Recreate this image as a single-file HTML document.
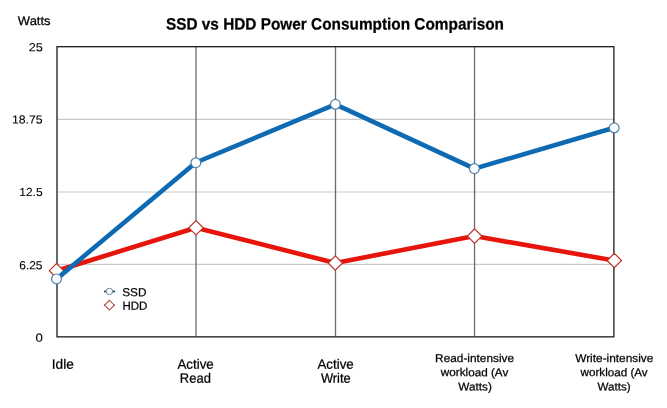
<!DOCTYPE html>
<html><head><meta charset="utf-8">
<style>
html,body{margin:0;padding:0;background:#fff;}
body{width:667px;height:408px;overflow:hidden;}
svg{display:block;will-change:transform;}
text{font-family:"Liberation Sans",sans-serif;fill:#000;stroke:#000;stroke-width:0.25px;}
#title{stroke-width:0.25px;}
#y25,#y18,#y12,#y6,#y0{stroke-width:0.1px;}
</style></head>
<body>
<svg width="667" height="408" viewBox="0 0 667 408">
<!-- gridlines -->
<g stroke="#c9c9c9" stroke-width="1.2">
<line x1="57" y1="119.4" x2="614" y2="119.4"/>
<line x1="57" y1="192" x2="614" y2="192"/>
<line x1="57" y1="264.4" x2="614" y2="264.4"/>
</g>
<g stroke="#6c6c6c" stroke-width="1.3">
<line x1="196" y1="47" x2="196" y2="336"/>
<line x1="335.5" y1="47" x2="335.5" y2="336"/>
<line x1="474.55" y1="47" x2="474.55" y2="336"/>
</g>
<!-- frame -->
<rect x="57" y="46.7" width="556.9" height="290.15" fill="none" stroke="#1a1a1a" stroke-width="1.3"/>
<!-- HDD -->
<polyline points="56.7,270.7 195.9,227.8 335.4,263 474.5,236.1 614.1,260.5" fill="none" stroke="#e6140a" stroke-width="4.6" stroke-linejoin="round"/>
<!-- markers HDD -->
<g fill="#fff" stroke="#b8342a" stroke-width="1.2">
<path d="M0 -7.2 L7.2 0 L0 7.2 L-7.2 0Z" transform="translate(56.5 270.7)"/>
<path d="M0 -7.2 L7.2 0 L0 7.2 L-7.2 0Z" transform="translate(196 227.8)"/>
<path d="M0 -7.2 L7.2 0 L0 7.2 L-7.2 0Z" transform="translate(335.3 263)"/>
<path d="M0 -7.2 L7.2 0 L0 7.2 L-7.2 0Z" transform="translate(474.6 236.1)"/>
<path d="M0 -7.2 L7.2 0 L0 7.2 L-7.2 0Z" transform="translate(614.3 260.5)"/>
</g>
<!-- SSD -->
<polyline points="56.7,278.9 195.9,162.5 335.4,104.3 474.5,168.6 614.1,127.8" fill="none" stroke="#0d6ab3" stroke-width="4.6" stroke-linejoin="round"/>
<!-- markers SSD -->
<g fill="#fbfdff" stroke="#4f7fa6" stroke-width="1.2">
<circle cx="56.5" cy="278.9" r="4.9"/>
<circle cx="195.85" cy="162.7" r="4.9"/>
<circle cx="335.4" cy="104.3" r="4.9"/>
<circle cx="474.4" cy="168.6" r="4.9"/>
<circle cx="614.2" cy="127.8" r="4.9"/>
</g>
<!-- legend -->
<line x1="103.9" y1="291.45" x2="115.1" y2="291.45" stroke="#17486b" stroke-width="1.7"/>
<circle cx="109.4" cy="291.45" r="3.2" fill="#fff" stroke="#58809e" stroke-width="0.95"/>
<line x1="104" y1="305.2" x2="114.8" y2="305.2" stroke="#8c2f2f" stroke-width="1.4"/>
<path d="M109.4 300.3 L114.3 305.2 L109.4 310.1 L104.5 305.2Z" fill="#fff" stroke="#b5453f" stroke-width="1.05"/>

<text id="title" transform="matrix(0.9403 0.0006 0 1 165.95 29.4)" font-size="16.35" font-weight="bold">SSD vs HDD Power Consumption Comparison</text>
<text id="watts" transform="matrix(1.0482 0.001 0 1 17.87 24.9)" font-size="12.4">Watts</text>
<text id="y25" transform="matrix(1.0854 0.001 0 1 28.78 51.2)" font-size="11.7">25</text>
<text id="y18" transform="matrix(1.0505 0.001 0 1 11.88 123.55)" font-size="11.7">18.75</text>
<text id="y12" transform="matrix(1.0252 0.001 0 1 19.30 196.0)" font-size="11.7">12.5</text>
<text id="y6" transform="matrix(1.0207 0.001 0 1 19.26 269.35)" font-size="11.7">6.25</text>
<text id="y0" transform="matrix(1.1288 0.001 0 1 35.54 341.75)" font-size="11.7">0</text>
<text id="lssd" transform="matrix(1.0095 0.001 0 1 122.17 296.25)" font-size="11.7">SSD</text>
<text id="lhdd" transform="matrix(0.9854 0.001 0 1 122.38 309.85)" font-size="11.7">HDD</text>
<text id="x1" transform="matrix(1.0044 0.001 0 1 51.79 368.8)" font-size="13.6">Idle</text>
<text id="x2a" transform="matrix(0.9795 0.001 0 1 177.45 368.8)" font-size="13.6">Active</text>
<text id="x2b" transform="matrix(0.9543 0.001 0 1 179.84 382.8)" font-size="13.6">Read</text>
<text id="x3a" transform="matrix(0.9795 0.001 0 1 317.45 368.8)" font-size="13.6">Active</text>
<text id="x3b" transform="matrix(0.9476 0.001 0 1 320.89 382.8)" font-size="13.6">Write</text>
<text id="x4a" transform="matrix(1.0384 0.001 0 1 435.11 362.0)" font-size="11.4">Read-intensive</text>
<text id="x4b" transform="matrix(1.0286 0.001 0 1 440.84 376.1)" font-size="11.4">workload (Av</text>
<text id="x4c" transform="matrix(1.0339 0.001 0 1 458.27 390.4)" font-size="11.4">Watts)</text>
<text id="x5a" transform="matrix(1.0406 0.001 0 1 575.20 362.0)" font-size="11.4">Write-intensive</text>
<text id="x5b" transform="matrix(1.0241 0.001 0 1 580.56 376.1)" font-size="11.4">workload (Av</text>
<text id="x5c" transform="matrix(1.0181 0.001 0 1 597.51 390.4)" font-size="11.4">Watts)</text>
</svg>
</body></html>
